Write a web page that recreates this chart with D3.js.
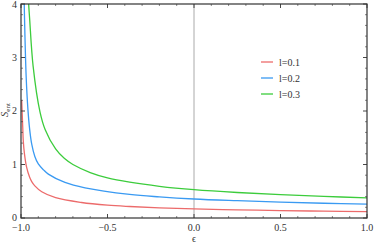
<!DOCTYPE html>
<html>
<head>
<meta charset="utf-8">
<script src="https://cdn.jsdelivr.net/npm/d3@7"></script>
<style>
  body { margin: 0; background: #fff; }
  svg text { font-family: "Liberation Serif", "Times New Roman", serif; fill: #333; }
</style>
</head>
<body>
<div id="chart"></div>
<script>
// values
const epsRed = [-0.996, -0.99, -0.987, -0.98, -0.967, -0.95, -0.938, -0.92, -0.88, -0.8, -0.65, -0.5, -0.372, -0.2, 0, 0.25, 0.5, 0.75, 1];
const sRed   = [2.2, 1.7, 1.45, 1.2, 0.94, 0.76, 0.68, 0.6, 0.49, 0.38, 0.29, 0.24, 0.215, 0.19, 0.17, 0.152, 0.139, 0.128, 0.12];
const epsBlue = [-0.982, -0.98, -0.97, -0.96, -0.95, -0.938, -0.92, -0.9, -0.87, -0.842, -0.746, -0.63, -0.372, -0.2, 0, 0.25, 0.5, 0.75, 1];
const sBlue   = [4.15, 3.79, 2.63, 2.03, 1.66, 1.38, 1.15, 1.01, 0.9, 0.82, 0.665, 0.565, 0.442, 0.395, 0.355, 0.323, 0.296, 0.276, 0.26];
const epsGreen = [-0.958, -0.95, -0.93, -0.89, -0.86, -0.8, -0.75, -0.7, -0.6, -0.5, -0.372, -0.2, 0, 0.25, 0.5, 0.75, 1];
const sGreen   = [4.1, 3.72, 2.84, 1.98, 1.65, 1.29, 1.115, 1.0, 0.85, 0.75, 0.67, 0.593, 0.53, 0.477, 0.438, 0.405, 0.375];
const labels = ["l=0.1", "l=0.2", "l=0.3"];
const colors = ["#ec6b6b", "#3a9af2", "#3ccc3c"];
const xTicks = [-1, -0.5, 0, 0.5, 1];
const yTicks = [0, 1, 2, 3, 4];

const W = 374, H = 245;
const margin = { top: 4, right: 7, bottom: 27, left: 21 };
const width = W - margin.left - margin.right;
const height = H - margin.top - margin.bottom;

const svg = d3.select("#chart").append("svg").attr("width", W).attr("height", H);
const g = svg.append("g").attr("transform", `translate(${margin.left},${margin.top})`);

const x = d3.scaleLinear().domain([-1, 1]).range([0, width]);
const y = d3.scaleLinear().domain([0, 4]).range([height, 0]);

svg.append("defs").append("clipPath").attr("id", "clip")
  .append("rect").attr("width", width).attr("height", height);

// vertical line at eps = 0
g.append("line")
  .attr("x1", x(0)).attr("x2", x(0)).attr("y1", 0).attr("y2", height)
  .attr("stroke", "#aaa").attr("stroke-width", 1);

const series = [
  { eps: epsRed, s: sRed },
  { eps: epsBlue, s: sBlue },
  { eps: epsGreen, s: sGreen },
];

const line = d3.line().x((d) => x(d[0])).y((d) => y(d[1])).curve(d3.curveCatmullRom.alpha(0.5));

const plot = g.append("g").attr("clip-path", "url(#clip)");
series.forEach((sr, i) => {
  plot.append("path")
    .datum(sr.eps.map((e, j) => [e, sr.s[j]]))
    .attr("fill", "none")
    .attr("stroke", colors[i])
    .attr("stroke-width", 1.3)
    .attr("d", line);
});

// frame ticks, inward, on all four sides
const fmt = (v) => d3.format(".1f")(v).replace("-", "\u2212");
const xMinor = d3.range(-10, 11).map((v) => v / 10);
const yMinor = d3.range(0, 21).map((v) => v / 5);

function ticks(gx, orient) {
  const horiz = orient === "bottom" || orient === "top";
  const vals = horiz ? xMinor : yMinor;
  const majors = horiz ? xTicks : yTicks;
  const sc = horiz ? x : y;
  vals.forEach((v) => {
    const isMaj = majors.some((m) => Math.abs(m - v) < 1e-9);
    const len = isMaj ? 4 : 2;
    const p = sc(v);
    const l = gx.append("line").attr("stroke", "#333").attr("stroke-width", isMaj ? 0.9 : 0.6);
    if (orient === "bottom") l.attr("x1", p).attr("x2", p).attr("y1", height).attr("y2", height - len);
    if (orient === "top") l.attr("x1", p).attr("x2", p).attr("y1", 0).attr("y2", len);
    if (orient === "left") l.attr("x1", 0).attr("x2", len).attr("y1", p).attr("y2", p);
    if (orient === "right") l.attr("x1", width).attr("x2", width - len).attr("y1", p).attr("y2", p);
  });
}
const axG = g.append("g");
["bottom", "top", "left", "right"].forEach((o) => ticks(axG, o));

g.append("rect").attr("width", width).attr("height", height)
  .attr("fill", "none").attr("stroke", "#333").attr("stroke-width", 1.2);

// tick labels
g.append("g").selectAll("text").data(xTicks).join("text")
  .attr("x", (d) => x(d)).attr("y", height + 12.5)
  .attr("text-anchor", "middle").attr("font-size", 10)
  .text(fmt);
g.append("g").selectAll("text").data(yTicks).join("text")
  .attr("x", -4).attr("y", (d) => Math.max(y(d) + 3, 4))
  .attr("text-anchor", "end").attr("font-size", 10)
  .text((d) => d);

// axis titles
svg.append("text").attr("x", margin.left + x(0)).attr("y", 242)
  .attr("text-anchor", "middle").attr("font-size", 10).text("\u03f5");
const yl = svg.append("text").attr("transform", "translate(8,110) rotate(-90)")
  .attr("text-anchor", "middle").attr("font-size", 10.5);
yl.append("tspan").attr("font-style", "italic").text("S");
yl.append("tspan").attr("font-size", 7).attr("dy", 2).text("ent");

// legend
const leg = svg.append("g").attr("transform", "translate(261,62)");
labels.forEach((lb, i) => {
  const row = leg.append("g").attr("transform", `translate(0,${i * 16})`);
  row.append("line").attr("x1", 0).attr("x2", 12).attr("y1", 0).attr("y2", 0)
    .attr("stroke", colors[i]).attr("stroke-width", 1.3);
  row.append("text").attr("x", 18).attr("y", 3.5).attr("font-size", 10).text(lb);
});
</script>
</body>
</html>
